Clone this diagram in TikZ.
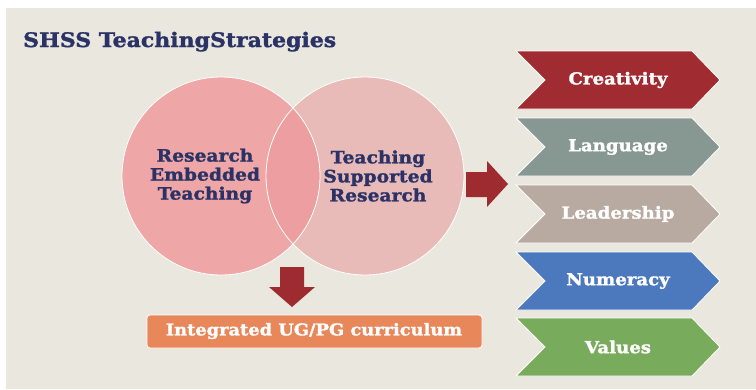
\documentclass[tikz,border=0pt]{standalone}
\usepackage{fontspec}
\setmainfont{DejaVu Serif}
\newfontfamily\heavy[FakeBold=1.6,FakeStretch=1.1]{DejaVu Serif Bold}
\definecolor{bg}{HTML}{EAE7DE}
\definecolor{navy}{HTML}{2B3366}
\definecolor{circL}{HTML}{EEA6A6}
\definecolor{circR}{HTML}{E8BAB8}
\definecolor{lens}{HTML}{EC9EA0}
\definecolor{darkred}{HTML}{9E2B30}
\definecolor{cCre}{HTML}{A02B30}
\definecolor{cLan}{HTML}{879893}
\definecolor{cLea}{HTML}{B8AAA0}
\definecolor{cNum}{HTML}{4C79BD}
\definecolor{cVal}{HTML}{79AB5C}
\definecolor{orangebox}{HTML}{E8875A}
\tikzset{
  circtext/.style={text=navy, font=\heavy\fontsize{17}{19}\selectfont, align=center, inner sep=0pt},
  chevtext/.style={text=white, font=\heavy\fontsize{16.5}{18}\selectfont, inner sep=0pt},
  blockarrow/.style={fill=darkred, draw=none},
  chevron/.style={draw=white, line width=0.8pt},
}
\newcommand{\chev}[4]{% top y, colour, name, text
  \fill[#2] (516,#1) -- (692,#1) -- (720,#1+29) -- (692,#1+58) -- (516,#1+58) -- (545,#1+29) -- cycle;
  \draw[chevron] (516,#1) -- (692,#1) -- (720,#1+29) -- (692,#1+58) -- (516,#1+58) -- (545,#1+29) -- cycle;
  \node[chevtext] (#3) at (618,#1+29) {#4};
}
\begin{document}
\begin{tikzpicture}[x=1pt,y=-1pt]
\useasboundingbox (0,0) rectangle (756,389);
\fill[white] (0,0) rectangle (756,389);
\fill[bg] (6,8) rectangle (756,389);
% title
\node[anchor=base west, text=navy, font=\heavy\fontsize{20}{22}\selectfont, inner sep=0pt] (title) at (23,47) {SHSS TeachingStrategies};
% circles
\fill[circL] (221,176) circle (99);
\fill[circR] (365,176) circle (99);
\begin{scope}
  \clip (221,176) circle (99);
  \fill[lens] (365,176) circle (99);
\end{scope}
\draw[white, line width=0.8pt] (221,176) circle (99);
\draw[white, line width=0.8pt] (365,176) circle (99);
\node[circtext] (ret) at (205,176) {Research\\Embedded\\Teaching};
\node[circtext] (tsr) at (378,176) {Teaching\\Supported\\Research};
% right arrow
\fill[blockarrow] (466,172) -- (487,172) -- (487,161) -- (508,184) -- (487,207) -- (487,197) -- (466,197) -- cycle;
% down arrow
\fill[blockarrow] (280,267) -- (304,267) -- (304,287) -- (315,287) -- (292,307) -- (269,287) -- (280,287) -- cycle;
% orange box
\draw[white, fill=orangebox, line width=0.8pt, rounded corners=3pt] (147,315) rectangle (482,348);
\node[chevtext, font=\heavy\fontsize{16.2}{18}\selectfont] (curr) at (314,331) {Integrated UG/PG curriculum};
% chevrons
\chev{51}{cCre}{cre}{Creativity}
\chev{118}{cLan}{lan}{Language}
\chev{185}{cLea}{lea}{Leadership}
\chev{252}{cNum}{num}{Numeracy}
\chev{318}{cVal}{val}{Values}
\end{tikzpicture}
\end{document}
